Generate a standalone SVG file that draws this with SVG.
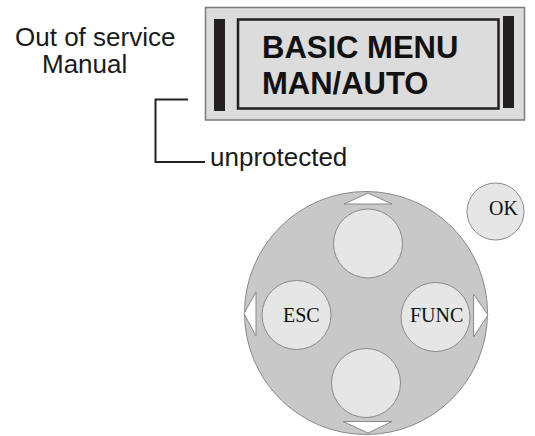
<svg xmlns="http://www.w3.org/2000/svg" width="535" height="436" viewBox="0 0 535 436">
  <style>
    .label { font-family: "Liberation Sans", Arial, sans-serif; font-size: 26px; fill: #1a1a1a; }
    .lcd { font-family: "Liberation Sans", Arial, sans-serif; font-size: 31px; font-weight: bold; fill: #111; }
    .key { fill: #e6e6e6; stroke: #8a8a8a; stroke-width: 1; }
    .keytext { font-family: "Liberation Serif", "Times New Roman", serif; font-size: 20px; fill: #111; }
    .arrow { fill: #ffffff; stroke: #8a8a8a; stroke-width: 1; }
    .bar { fill: #231f20; }
    .lead { fill: none; stroke: #231f20; stroke-width: 2; }
  </style>

  <rect width="535" height="436" fill="#ffffff"/>

  <!-- status text -->
  <g id="status">
    <text class="label" x="15" y="46">Out of service</text>
    <text class="label" x="42" y="73">Manual</text>
  </g>

  <!-- display panel -->
  <g id="display">
    <rect x="205.5" y="7.5" width="319" height="112.5" fill="#dcdcdc" stroke="#7a7a7a" stroke-width="1.5"/>
    <rect class="bar" x="214" y="19" width="11" height="92"/>
    <rect class="bar" x="503" y="16" width="11" height="92"/>
    <rect x="238" y="19.5" width="260.5" height="89" fill="#dcdcdc" stroke="#231f20" stroke-width="2.5"/>
    <text class="lcd" x="262" y="58">BASIC MENU</text>
    <text class="lcd" x="262" y="94">MAN/AUTO</text>
  </g>

  <!-- bracket leading to protection note -->
  <g id="connectors">
    <polyline class="lead" points="188,99.5 155.5,99.5 155.5,162 205,162"/>
  </g>

  <g id="protection">
    <text class="label" x="210" y="166">unprotected</text>
  </g>

  <!-- navigation pad -->
  <g id="pad">
    <circle cx="366" cy="313" r="121.5" fill="#c8c8c8" stroke="#8a8a8a" stroke-width="1"/>
    <polygon class="arrow" points="344,204 368,193 392,204"/>
    <polygon class="arrow" points="343,421.5 368,433 392,421.5"/>
    <polygon class="arrow" points="256,292 244,313.5 256,336"/>
    <polygon class="arrow" points="473.5,294 488,315 473.5,337"/>
  </g>

  <g id="key-up">
    <circle class="key" cx="368" cy="243.5" r="34.5"/>
  </g>
  <g id="key-down">
    <circle class="key" cx="366" cy="383" r="34.5"/>
  </g>
  <g id="key-esc">
    <circle class="key" cx="296.5" cy="315" r="34.5"/>
    <text class="keytext" x="283" y="322">ESC</text>
  </g>
  <g id="key-func">
    <circle class="key" cx="435.5" cy="317" r="34.5"/>
    <text class="keytext" x="410" y="322">FUNC</text>
  </g>
  <g id="key-ok">
    <circle class="key" cx="495.5" cy="211.5" r="28.5"/>
    <text class="keytext" x="489" y="214.5">OK</text>
  </g>
</svg>
